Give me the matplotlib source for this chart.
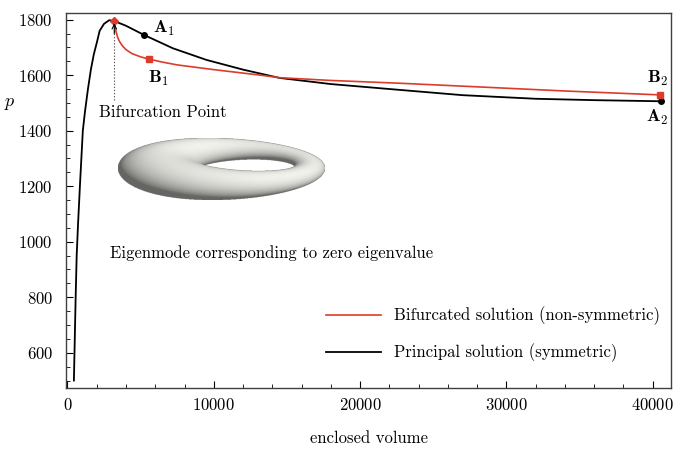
import numpy as np
import matplotlib
matplotlib.use("Agg")
import matplotlib.pyplot as plt
from matplotlib.lines import Line2D

plt.rcParams['font.family'] = ['cmr10', 'DejaVu Serif']
plt.rcParams['mathtext.fontset'] = 'cm'
plt.rcParams['axes.formatter.use_mathtext'] = True
plt.rcParams['axes.unicode_minus'] = False

# ---------------- data ----------------
principal_volume = [440, 500, 560, 630, 720, 850, 950, 1050, 1200, 1400, 1600, 1800,
                    2000, 2200, 2500, 2850, 3200, 4000, 5230, 7200, 9500, 12000,
                    14500, 18000, 22700, 27000, 32000, 36000, 40570]
principal_p = [500, 650, 800, 950, 1060, 1200, 1300, 1400, 1470, 1550, 1620, 1675,
               1716, 1760, 1785, 1798, 1795, 1778, 1745, 1697, 1655, 1620,
               1590, 1568, 1547, 1528, 1515, 1510, 1506]

bifurcated_volume = [3200, 3260, 3330, 3420, 3550, 3750, 4000, 4400, 5000, 5560, 6500,
                     7500, 10000, 13200, 14500, 18000, 22700, 28000, 34000, 40500]
bifurcated_p = [1795, 1772, 1755, 1738, 1722, 1706, 1692, 1678, 1666, 1658, 1647,
                1637, 1620, 1600, 1591, 1581, 1571, 1558, 1543, 1529]

bifurcation_point = (3200, 1795)
bifurcation_line_bottom = 1511

A_volume = [5230, 40570]
A_p = [1745, 1506]
A_labels = [r'$\mathbf{A}_1$', r'$\mathbf{A}_2$']
B_volume = [5560, 40500]
B_p = [1658, 1529]
B_labels = [r'$\mathbf{B}_1$', r'$\mathbf{B}_2$']

x_ticks = [0, 10000, 20000, 30000, 40000]
y_ticks = [600, 800, 1000, 1200, 1400, 1600, 1800]

RED = '#dc3c2c'

# ---------------- figure ----------------
fig = plt.figure(figsize=(6.8, 4.49), dpi=100)
ax = fig.add_axes([66/680, 1-388/449, 605/680, 375/449])

ax.plot(principal_volume, principal_p, color='black', lw=1.3, zorder=3)
ax.plot(bifurcated_volume, bifurcated_p, color=RED, lw=1.2, zorder=4)

ax.plot(A_volume, A_p, 'o', color='black', ms=4, zorder=5)
ax.plot(B_volume, B_p, 's', color=RED, ms=4, zorder=5)
ax.plot([bifurcation_point[0]], [bifurcation_point[1]], 'D', color=RED, ms=4, zorder=6)

# dotted indicator + arrow
ax.plot([bifurcation_point[0]] * 2, [bifurcation_line_bottom, bifurcation_point[1] - 30],
        ls=(0, (1.2, 1.6)), color='0.35', lw=0.8, zorder=2)
ax.annotate('', xy=(bifurcation_point[0], bifurcation_point[1] - 8),
            xytext=(bifurcation_point[0], bifurcation_point[1] - 45),
            arrowprops=dict(arrowstyle='->', color='black', lw=0.8,
                            shrinkA=0, shrinkB=0, mutation_scale=8), zorder=6)

ax.annotate('Bifurcation Point', xy=bifurcation_point, xytext=(35, -66),
            textcoords='offset points', ha='center', va='center', fontsize=12)

# point labels
ax.annotate(A_labels[0], xy=(A_volume[0], A_p[0]), xytext=(6.5, 4.3),
            textcoords='offset points', ha='left', va='center', fontsize=13)
ax.annotate(B_labels[0], xy=(B_volume[0], B_p[0]), xytext=(-0.7, -13.7),
            textcoords='offset points', ha='left', va='center', fontsize=13)
ax.annotate(B_labels[1], xy=(B_volume[1], B_p[1]), xytext=(5.8, 11.5),
            textcoords='offset points', ha='right', va='center', fontsize=13)
ax.annotate(A_labels[1], xy=(A_volume[1], A_p[1]), xytext=(5.0, -11.5),
            textcoords='offset points', ha='right', va='center', fontsize=13)

ax.text(0.073, 0.36, 'Eigenmode corresponding to zero eigenvalue',
        transform=ax.transAxes, ha='left', va='center', fontsize=12)

# axes styling
ax.set_xlim(-100, 41250)
ax.set_ylim(473, 1824)
ax.set_xticks(x_ticks)
ax.set_yticks(y_ticks)
ax.set_xticks(np.arange(0, 41001, 2000), minor=True)
ax.set_yticks(np.arange(500, 1801, 50), minor=True)
ax.tick_params(which='both', direction='in', top=False, right=False, labelsize=12)
ax.tick_params(which='major', length=5, width=0.8)
ax.tick_params(which='minor', length=3, width=0.6)
ax.tick_params(axis='x', pad=6.5)
ax.tick_params(axis='y', pad=9.5)
for s in ax.spines.values():
    s.set_color('0.25')
    s.set_linewidth(1.0)

ax.set_xlabel('enclosed volume', fontsize=12, labelpad=12.5)
ax.set_ylabel(r'$p$', fontsize=13, rotation=0)
ax.yaxis.set_label_coords(-0.093, 0.736)

handles = [Line2D([], [], color=RED, lw=1.2), Line2D([], [], color='black', lw=1.3)]
ax.legend(handles, ['Bifurcated solution (non-symmetric)', 'Principal solution (symmetric)'],
          loc='center left', bbox_to_anchor=(0.43, 0.143), frameon=False, fontsize=12,
          handlelength=3.3, handletextpad=0.8, labelspacing=1.1, borderpad=0,
          borderaxespad=0)

# ---------------- torus illustration (rendered eigenmode shape) ----------------
def render_torus(W=621, H=186, elev=30.0, R=1.0, r0=0.36, dr=0.17, phase=np.pi + 0.35):
    phi = np.linspace(0, 2*np.pi, 2800, endpoint=False)
    th = np.linspace(0, 2*np.pi, 900, endpoint=False)
    P, T = np.meshgrid(phi, th)
    r = r0 + dr*np.cos(P - phase)
    x = (R + r*np.cos(T))*np.cos(P)
    y = (R + r*np.cos(T))*np.sin(P)
    z = r*np.sin(T)
    e = np.radians(elev)
    sx = x
    sy = y*np.sin(e) + z*np.cos(e)
    depth = y*np.cos(e) - z*np.sin(e)
    n = np.stack([np.cos(T)*np.cos(P), np.cos(T)*np.sin(P), np.sin(T)])
    L = np.array([0.35, -0.45, 0.82]); L = L/np.linalg.norm(L)
    lam = np.clip(np.tensordot(L, n, axes=1), 0, 1)
    shade = 0.42 + 0.58*lam**0.8
    base = np.array([0.95, 0.95, 0.93])
    sx, sy, depth, shade = sx.ravel(), sy.ravel(), depth.ravel(), shade.ravel()
    ix = ((sx - sx.min())/(sx.max()-sx.min())*(W-1)).round().astype(int)
    iy = ((sy.max() - sy)/(sy.max()-sy.min())*(H-1)).round().astype(int)
    order = np.argsort(-depth, kind='stable')
    img = np.zeros((H, W, 4))
    cols = np.empty((sx.size, 4))
    cols[:, :3] = shade[:, None]*base[None, :]
    cols[:, 3] = 1.0
    img[iy[order], ix[order]] = cols[order]
    return img

tax = fig.add_axes([118/680, 1-200/449, 207/680, 62/449])
tax.imshow(render_torus(), aspect='auto', interpolation='antialiased')
tax.set_axis_off()

fig.savefig('out.png', dpi=100)
